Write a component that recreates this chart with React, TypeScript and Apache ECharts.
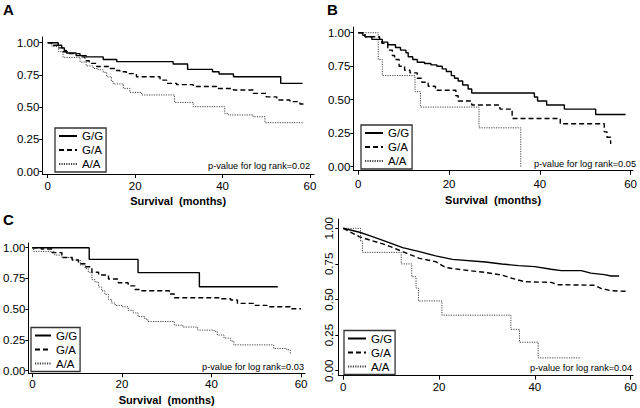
import React, { useEffect, useRef } from "react";
import * as echarts from "echarts";

// ---------- data (months, survival probability) ----------
const A_GG = [[0,1],[2.4,0.98],[3.2,0.96],[3.8,0.94],[4.3,0.92],[6.5,0.90],[8.8,0.89],[12.7,0.87],[15.8,0.853],[28.7,0.835],[32,0.793],[37.7,0.775],[39.2,0.757],[42.5,0.736],[53.3,0.685],[58.3,0.685]];
const A_GA = [[0,1],[0.8,0.98],[2.5,0.96],[3.5,0.93],[5,0.915],[7.4,0.89],[8.5,0.86],[9.5,0.84],[11.2,0.815],[14.3,0.80],[15.5,0.785],[16.5,0.775],[18,0.76],[20.3,0.736],[25.7,0.71],[27.2,0.685],[29.5,0.675],[33.3,0.66],[38.6,0.645],[42.5,0.633],[47,0.607],[50,0.58],[52.4,0.556],[55.4,0.543],[57.7,0.525],[58.8,0.525]];
const A_AA = [[0,1],[1,0.97],[2.5,0.93],[3.5,0.886],[7.4,0.85],[8.8,0.82],[10.4,0.80],[11.5,0.79],[12.7,0.77],[13.5,0.736],[14.6,0.70],[15,0.68],[17.3,0.646],[18.8,0.615],[21.5,0.595],[29,0.537],[33.3,0.504],[40.5,0.452],[41.3,0.44],[47,0.426],[49.7,0.38],[58.3,0.38]];

const B_GG = [[0,1],[1,0.98],[1.5,0.97],[3,0.95],[5.3,0.93],[6.5,0.91],[8.2,0.89],[9.3,0.87],[10.5,0.85],[11,0.82],[12,0.80],[13,0.78],[14.6,0.77],[16,0.76],[17.3,0.75],[18.5,0.73],[19.4,0.71],[20.5,0.68],[21.2,0.66],[22,0.64],[23,0.61],[24.2,0.58],[25,0.55],[38.8,0.52],[39.5,0.49],[41.5,0.46],[45.4,0.43],[52.3,0.39],[58.9,0.39]];
const B_GA = [[0,1],[1.5,0.97],[4.7,0.95],[5.2,0.92],[6.5,0.87],[7.5,0.83],[8,0.80],[9,0.75],[10.2,0.72],[11.4,0.70],[13,0.66],[14,0.63],[15.4,0.60],[17,0.57],[21.5,0.53],[22,0.49],[25,0.46],[31.2,0.43],[33.9,0.36],[44.5,0.32],[54.2,0.26],[54.8,0.22],[55.6,0.17]];
const B_AA = [[0,1],[4.4,0.80],[5.3,0.68],[12.5,0.56],[13.7,0.445],[26.6,0.29],[35.8,0]];

const C_GG = [[0,1],[12.7,0.905],[23.6,0.797],[37.3,0.683],[54.8,0.683]];
const C_GA = [[0,1],[2,0.99],[4.4,0.96],[6.6,0.92],[8.9,0.90],[10.3,0.87],[11.8,0.845],[13.3,0.80],[14.8,0.778],[17,0.745],[19.2,0.715],[21.4,0.69],[22.9,0.66],[24.4,0.65],[30.6,0.623],[31.7,0.593],[42,0.585],[44.3,0.575],[45.8,0.547],[49.4,0.531],[52.4,0.52],[57.6,0.504],[60,0.504]];
const C_AA = [[0,1],[0.3,0.97],[5,0.94],[6.6,0.92],[8.9,0.90],[10.7,0.86],[11.8,0.83],[12.5,0.80],[13.3,0.74],[14,0.72],[14.8,0.68],[15.5,0.65],[16.2,0.62],[17,0.58],[17.7,0.55],[18.5,0.53],[20,0.52],[21.4,0.49],[22.5,0.47],[23.6,0.44],[25.1,0.42],[25.8,0.40],[31.7,0.37],[33.6,0.355],[36.9,0.33],[40.6,0.32],[41.3,0.29],[42.8,0.265],[44.3,0.24],[45,0.21],[53.9,0.18],[56.8,0.17],[57.6,0.13]];

const D_GG = [[0,1],[3.4,0.972],[5.5,0.948],[9,0.906],[12.4,0.864],[15.9,0.836],[19.3,0.806],[22.8,0.782],[29.7,0.763],[33.1,0.749],[36.6,0.738],[40,0.731],[43.4,0.712],[45.5,0.703],[49.7,0.703],[51.7,0.685],[54.5,0.675],[55.9,0.665],[57.6,0.665]];
const D_GA = [[0,1],[3.4,0.94],[5.5,0.918],[9,0.883],[12.4,0.836],[15.9,0.789],[19.3,0.766],[21.4,0.724],[26.2,0.703],[29.7,0.69],[33.1,0.672],[35.2,0.649],[37.9,0.625],[43.4,0.62],[44.8,0.604],[52.4,0.6],[53.8,0.578],[55.9,0.562],[59.3,0.557]];
const D_AA = [[0,1],[3.6,0.91],[4,0.831],[12.1,0.75],[14.3,0.66],[15.2,0.58],[15.7,0.49],[20.6,0.39],[35,0.29],[36.8,0.20],[40.7,0.09],[49.7,0.09]];

const GENOTYPES = ["G/G", "G/A", "A/A"];
const X_TICKS = [0, 20, 40, 60];
const Y_TICKS = [0, 0.25, 0.5, 0.75, 1];
const PANEL_LABELS = ["A", "B", "C", ""];
const P_VALUES = ["p-value for log rank=0.02", "p-value for log rank=0.05", "p-value for log rank=0.03", "p-value for log rank=0.04"];
const X_TITLE = "Survival  (months)";

const FONT = "'Liberation Sans', Arial, Helvetica, sans-serif";

// ---------- layout (pixels) ----------
const PANELS = [
  { data: [A_GG, A_GA, A_AA], xL: 42.3, x0: 47.7, x60: 310, xR: 314, yT: 37, y1: 42.7, y0: 171.7, yB: 174, title: true, nameGap: 21, lm: 6, legend: { left: 55, top: 128 }, p: { x: 310, y: 166 }, letter: { x: 3, y: 2 }, rotY: false, smooth: false },
  { data: [B_GG, B_GA, B_AA], xL: 353.3, x0: 358.3, x60: 631.7, xR: 634, yT: 27, y1: 32.7, y0: 166.7, yB: 170.7, title: true, nameGap: 24, lm: 7, legend: { left: 361, top: 125 }, p: { x: 636, y: 163.5 }, letter: { x: 327, y: 2 }, rotY: false, smooth: false },
  { data: [C_GG, C_GA, C_AA], xL: 26, x0: 30, x60: 301, xR: 305, yT: 243, y1: 247.7, y0: 370.7, yB: 373.3, title: true, nameGap: 21.5, lm: 5, legend: { left: 31, top: 327.5 }, p: { x: 304, y: 366.5 }, letter: { x: 3, y: 212 }, rotY: false, smooth: false },
  { data: [D_GG, D_GA, D_AA], xL: 338.3, x0: 343.3, x60: 632.5, xR: 635, yT: 219, y1: 228.3, y0: 370.7, yB: 375.7, title: false, nameGap: 20, lm: 5, legend: { left: 344, top: 330.5 }, p: { x: 632, y: 367.5 }, letter: { x: 0, y: 0 }, rotY: true, smooth: true },
];

const LINE_STYLES = [
  { color: "#000", width: 1.4, type: "solid" },
  { color: "#000", width: 1.4, type: [5, 3] },
  { color: "#444", width: 1, type: [1.2, 1.2] },
];

function buildOption() {
  const grid: any[] = [];
  const xAxis: any[] = [];
  const yAxis: any[] = [];
  const series: any[] = [];
  const legend: any[] = [];
  const graphic: any[] = [];

  PANELS.forEach((p, i) => {
    const pxM = (p.x60 - p.x0) / 60;
    const pxV = p.y0 - p.y1;
    const xmin = (p.xL - p.x0) / pxM;
    const xmax = 60 + (p.xR - p.x60) / pxM;
    const ymin = -(p.yB - p.y0) / pxV;
    const ymax = 1 + (p.y1 - p.yT) / pxV;
    grid.push({ left: p.xL, top: p.yT, width: p.xR - p.xL, height: p.yB - p.yT, containLabel: false });
    xAxis.push({
      type: "value", gridIndex: i, min: xmin, max: xmax,
      axisLine: { show: true, onZero: false, lineStyle: { color: "#000", width: 1 } },
      axisTick: { show: true, length: 4, customValues: X_TICKS, lineStyle: { color: "#000", width: 1 } },
      axisLabel: { customValues: X_TICKS, margin: p.lm, fontSize: 11.5, color: "#000", fontFamily: FONT },
      splitLine: { show: false },
      name: p.title ? X_TITLE : "", nameLocation: "middle", nameGap: p.nameGap,
      nameTextStyle: { fontWeight: "bold", fontSize: 11, color: "#000", fontFamily: FONT },
    });
    yAxis.push({
      type: "value", gridIndex: i, min: ymin, max: ymax,
      axisLine: { show: true, onZero: false, lineStyle: { color: "#000", width: 1 } },
      axisTick: { show: true, length: 3, customValues: Y_TICKS, lineStyle: { color: "#000", width: 1 } },
      axisLabel: {
        customValues: Y_TICKS, margin: 3, rotate: p.rotY ? 90 : 0,
        fontSize: 11.5, color: "#000", fontFamily: FONT,
        formatter: (v: number) => v.toFixed(2),
      },
      splitLine: { show: false },
    });
    p.data.forEach((d, k) => {
      const stepped = !(p.smooth && k < 2);
      series.push({
        type: "line", name: GENOTYPES[k], xAxisIndex: i, yAxisIndex: i,
        data: d, step: stepped ? "end" : false, symbol: "none", showSymbol: false,
        lineStyle: LINE_STYLES[k], itemStyle: { color: LINE_STYLES[k].color },
        silent: true, z: 3 - k,
      });
    });
    legend.push({
      orient: "vertical", left: p.legend.left, top: p.legend.top,
      itemWidth: i === 2 ? 16 : 18, itemHeight: 8, itemGap: 2,
      padding: [2, 3, 2, 3], borderColor: "#333", borderWidth: 1.3, borderRadius: 0,
      itemStyle: { opacity: 0, borderWidth: 0 },
      textStyle: { fontSize: 11.5, color: "#000", fontFamily: FONT, lineHeight: 11 },
      data: GENOTYPES, selectedMode: false,
    });
    graphic.push({
      type: "text", x: p.p.x, y: p.p.y,
      style: { text: P_VALUES[i], fill: "#000", fontSize: 9.2, fontFamily: FONT, textAlign: "right", textVerticalAlign: "middle" },
    });
    if (PANEL_LABELS[i]) {
      graphic.push({
        type: "text", x: p.letter.x, y: p.letter.y,
        style: { text: PANEL_LABELS[i], fill: "#000", fontSize: 15, fontWeight: "bold", fontFamily: FONT, textAlign: "left", textVerticalAlign: "top" },
      });
    }
  });

  return { animation: false, backgroundColor: "#fff", grid, xAxis, yAxis, series, legend, graphic };
}

export default function App() {
  const ref = useRef<HTMLDivElement>(null);
  useEffect(() => {
    if (!ref.current) return;
    const chart = echarts.init(ref.current, undefined, { renderer: "svg" });
    chart.setOption(buildOption() as any);
    return () => chart.dispose();
  }, []);
  return <div ref={ref} style={{ position: "fixed", left: 0, top: 0, width: 640, height: 408, background: "#fff" }} />;
}
